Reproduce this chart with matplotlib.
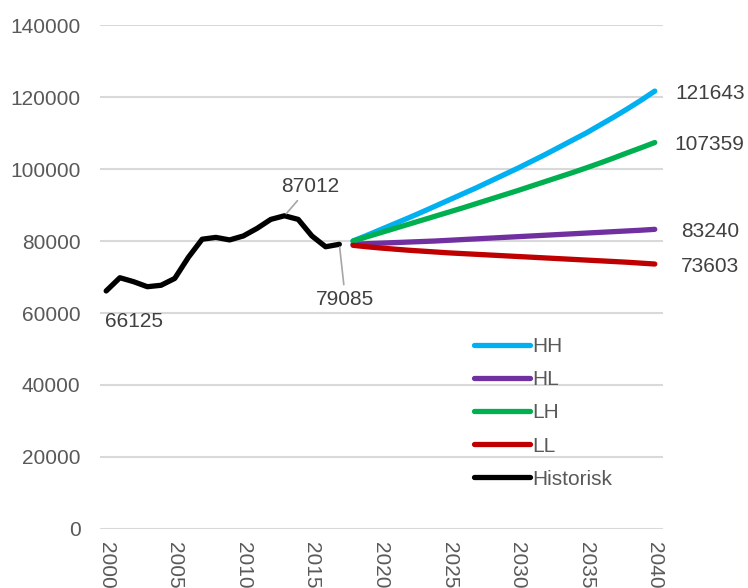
import matplotlib
matplotlib.use('Agg')
import matplotlib.pyplot as plt

plt.rcParams['font.family'] = ['Liberation Sans', 'DejaVu Sans']

# historic population
hist_years = list(range(2000, 2018))
hist_values = [66125, 69800, 68700, 67300, 67700, 69600, 75500, 80500, 81000,
               80300, 81400, 83500, 86000, 87012, 86000, 81400, 78400, 79085]

# projections 2018-2040
proj_years = list(range(2018, 2041))
hh = [80000, 81550, 83150, 84750, 86350, 88000, 89700, 91400, 93100, 94800, 96600, 98400,
      100200, 102100, 104000, 106000, 108000, 110000, 112200, 114400, 116700, 119100, 121643]
hl = [79100, 79250, 79400, 79550, 79700, 79850, 80000, 80200, 80400, 80600, 80800, 81000,
      81200, 81400, 81600, 81800, 82000, 82200, 82400, 82600, 82800, 83000, 83240]
lh = [80000, 81150, 82300, 83450, 84600, 85750, 86900, 88050, 89200, 90400, 91600, 92800,
      94000, 95250, 96500, 97750, 99000, 100300, 101650, 103050, 104500, 105900, 107359]
ll = [78800, 78400, 78050, 77750, 77450, 77200, 76950, 76700, 76500, 76300, 76100, 75900,
      75700, 75500, 75300, 75100, 74900, 74700, 74500, 74300, 74100, 73850, 73603]

series = [('HH', hh, '#00b0f0'), ('HL', hl, '#7030a0'),
          ('LH', lh, '#00b050'), ('LL', ll, '#c00000')]

fig = plt.figure(figsize=(7.48, 5.88), dpi=100)
ax = fig.add_axes([100 / 748, 59 / 588, 563 / 748, 504 / 588])

lw = 3.8
for name, vals, col in series:
    ax.plot(proj_years, vals, color=col, lw=lw, solid_capstyle='round', label=name)
ax.plot(hist_years, hist_values, color='black', lw=lw, solid_capstyle='round',
        solid_joinstyle='round', label='Historisk')

ax.set_xlim(1999.55, 2040.6)
ax.set_ylim(0, 140000)
ax.set_yticks(range(0, 140001, 20000))
ax.set_xticks(range(2000, 2041, 5))
ax.tick_params(axis='x', labelrotation=270, length=0, pad=9, labelsize=15, labelcolor='#595959')
ax.tick_params(axis='y', length=0, pad=14, labelsize=15, labelcolor='#595959')
for lab in ax.get_xticklabels():
    lab.set_va('top')
ax.grid(axis='y', color='#d9d9d9', lw=1.5)
ax.set_axisbelow(True)
for s in ax.spines.values():
    s.set_visible(False)

lab_col = '#404040'
# end-of-line labels
for name, vals, col in series:
    ax.annotate(str(vals[-1]), xy=(proj_years[-1], vals[-1]), xytext=(55, -2),
                textcoords='offset pixels', ha='center', va='center',
                fontsize=15, color=lab_col, annotation_clip=False)

ax.annotate('87012', xy=(2013, 87012), xytext=(2014.85, 95200), ha='center', va='center',
            fontsize=15, color=lab_col,
            arrowprops=dict(arrowstyle='-', color='#a6a6a6', lw=1.2, shrinkA=2, shrinkB=2))
ax.annotate('79085', xy=(2017, 79085), xytext=(2017.45, 63700), ha='center', va='center',
            fontsize=15, color=lab_col,
            arrowprops=dict(arrowstyle='-', color='#a6a6a6', lw=1.2, shrinkA=2, shrinkB=2))
ax.text(2002, 57600, '66125', ha='center', va='center', fontsize=15, color=lab_col)

leg = ax.legend(loc='upper left', bbox_to_anchor=(474 / 748, 1 - 337 / 588),
                bbox_transform=fig.transFigure, frameon=False, fontsize=15,
                handlelength=2.7, handletextpad=0.1, labelspacing=0.68,
                borderaxespad=0, borderpad=0)
for t in leg.get_texts():
    t.set_color('#595959')

fig.savefig('out.png', dpi=100)
